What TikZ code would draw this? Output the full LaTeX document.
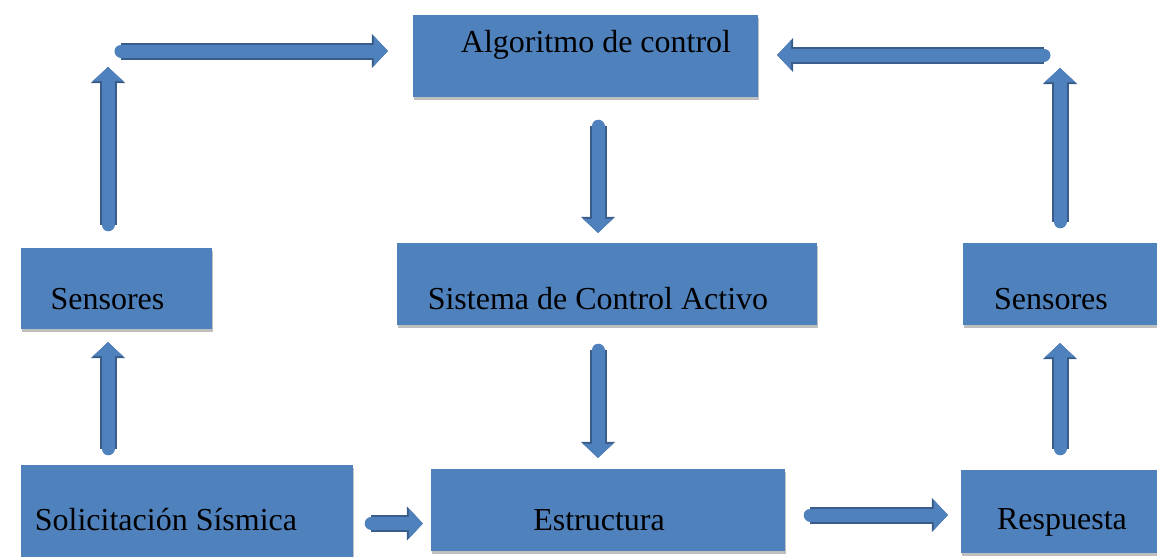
\documentclass[tikz,border=0pt]{standalone}
\usepackage{fontspec}
\setmainfont{Liberation Serif}
\newfontfamily\diagfont{Liberation Serif}
\usetikzlibrary{arrows.meta,shadows}
\definecolor{boxblue}{RGB}{79,129,189}
\definecolor{edgeblue}{RGB}{56,93,138}
\begin{document}
\begin{tikzpicture}[x=1pt,y=-1pt,
  box/.style={rectangle,fill=boxblue,inner sep=0pt,
    drop shadow={shadow xshift=1pt,shadow yshift=-3pt,fill=black,opacity=0.25}},
  txt/.style={anchor=base,inner sep=0pt,font=\diagfont\fontsize{32}{38}\selectfont},
  blk/.style={draw=boxblue,line width=13pt,line cap=round,
    -{Triangle[length=14pt,width=30pt,line width=0.5pt]},
    preaction={draw=edgeblue,line width=17pt,
      -{Triangle[length=16pt,width=34pt,line width=0.5pt]}}}]
  \useasboundingbox (0,0) rectangle (1157,557);
  % boxes
  \node[box,minimum width=345pt,minimum height=82pt] (alg) at (585.5,56) {};
  \node[box,minimum width=420pt,minimum height=82pt] (sis) at (607,284) {};
  \node[box,minimum width=191pt,minimum height=81pt] (senL) at (116.5,288.5) {};
  \node[box,minimum width=197pt,minimum height=82pt] (senR) at (1061.5,284) {};
  \node[box,minimum width=332pt,minimum height=95pt] (sol) at (187,512.5) {};
  \node[box,minimum width=354pt,minimum height=82pt] (est) at (608,510) {};
  \node[box,minimum width=199pt,minimum height=83pt] (res) at (1060.5,511.5) {};
  % texts
  \node[txt] (algtxt) at (596,52) {Algoritmo de control};
  \node[txt] (sistxt) at (598,309) {Sistema de Control Activo};
  \node[txt] (senLtxt) at (107.5,309) {Sensores};
  \node[txt] (senRtxt) at (1051,309) {Sensores};
  \node[txt] (soltxt) at (166,530) {Solicitación Sísmica};
  \node[txt] (esttxt) at (599,530) {Estructura};
  \node[txt] (restxt) at (1062,529) {Respuesta};
  % loop corners and middle column
  \coordinate (cornerL) at (108,51);
  \coordinate (cornerR) at (1060,55);
  \coordinate (midcol) at (598,0);
  % arrows
  \draw[blk,shorten <=23pt,shorten >=16pt] (cornerL |- senL.north) -- (cornerL);
  \draw[blk,shorten <=13pt,shorten >=25pt] (cornerL) -- (alg.west |- cornerL);
  \draw[blk,shorten <=21pt,shorten >=13pt] (cornerR |- senR.north) -- (cornerR);
  \draw[blk,shorten <=16pt,shorten >=19pt] (cornerR) -- (alg.east |- cornerR);
  \draw[blk,shorten <=29pt,shorten >=10pt] (midcol |- alg.south) -- (midcol |- sis.north);
  \draw[blk,shorten <=25pt,shorten >=11pt] (midcol |- sis.south) -- (midcol |- est.north);
  \draw[blk,shorten <=16pt,shorten >=13pt] (cornerL |- sol.north) -- (cornerL |- senL.south);
  \draw[blk,shorten <=21pt,shorten >=18pt] (cornerR |- res.north) -- (cornerR |- senR.south);
  \draw[blk,shorten <=18pt,shorten >=8pt] ([yshift=-11pt]sol.east) -- ([yshift=-11pt]sol.east -| est.west);
  \draw[blk,shorten <=25pt,shorten >=13pt] ([yshift=-5pt]est.east) -- ([yshift=-5pt]est.east -| res.west);
\end{tikzpicture}
\end{document}
